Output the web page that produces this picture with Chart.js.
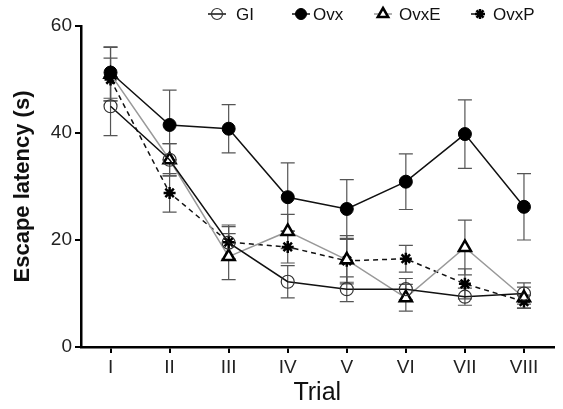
<!DOCTYPE html>
<html lang="en">
<head>
  <meta charset="UTF-8">
  <title>Escape latency by trial</title>
  <script src="https://cdn.jsdelivr.net/npm/chart.js@4"></script>
  <style>
    body { margin: 0; background: #fff; }
    .chartBox { width: 563px; height: 409px; }
  </style>
</head>
<body>
  <div class="chartBox"><canvas id="myChart"></canvas></div>
  <script>
    // data
    const trials = ['I', 'II', 'III', 'IV', 'V', 'VI', 'VII', 'VIII'];
    const yTicks = [0, 20, 40, 60];

    const giMean   = [45.0, 35.0, 19.5, 12.2, 10.8, 10.8, 9.4, 10.0];
    const giSem    = [5.5, 3.0, 3.0, 3.0, 2.3, 2.0, 1.6, 2.0];
    const ovxMean  = [51.3, 41.5, 40.8, 28.0, 25.8, 30.9, 39.8, 26.2];
    const ovxSem   = [4.8, 6.5, 4.5, 6.4, 5.5, 5.2, 6.4, 6.2];
    const ovxEMean = [51.0, 35.0, 16.9, 21.6, 16.3, 9.2, 18.6, 9.2];
    const ovxESem  = [5.0, 3.0, 4.3, 3.2, 4.5, 2.5, 5.1, 2.0];
    const ovxPMean = [50.0, 28.8, 19.6, 18.7, 16.1, 16.5, 11.8, 8.5];
    const ovxPSem  = [4.0, 3.6, 3.2, 3.0, 4.0, 2.5, 2.8, 1.2];

    const font = 'Arial, "Liberation Sans", sans-serif';

    // vertical SEM bars with caps
    const errorBars = {
      id: 'errorBars',
      beforeDatasetsDraw(chart) {
        const ctx = chart.ctx;
        const y = chart.scales.y;
        ctx.save();
        ctx.strokeStyle = '#555';
        ctx.lineWidth = 1.2;
        chart.data.datasets.forEach((ds, i) => {
          const meta = chart.getDatasetMeta(i);
          ds.sem.forEach((e, j) => {
            const px = meta.data[j].x;
            const top = y.getPixelForValue(ds.data[j] + e);
            const bot = y.getPixelForValue(ds.data[j] - e);
            ctx.beginPath();
            ctx.moveTo(px, top); ctx.lineTo(px, bot);
            ctx.moveTo(px - 7, top); ctx.lineTo(px + 7, top);
            ctx.moveTo(px - 7, bot); ctx.lineTo(px + 7, bot);
            ctx.stroke();
          });
        });
        ctx.restore();
      }
    };

    // prism-style legend: short line + marker + name
    const legendMarkX = [217, 301, 383, 480];
    const legendTextX = [236, 313, 399, 493];
    const lineLegend = {
      id: 'lineLegend',
      afterDraw(chart) {
        const ctx = chart.ctx;
        const ly = 14;
        ctx.save();
        chart.data.datasets.forEach((ds, i) => {
          const cx = legendMarkX[i];
          ctx.strokeStyle = ds.borderColor;
          ctx.lineWidth = 1.5;
          ctx.setLineDash(ds.borderDash || []);
          ctx.beginPath();
          ctx.moveTo(cx - 9, ly); ctx.lineTo(cx + 9, ly);
          ctx.stroke();
          ctx.setLineDash([]);
          ctx.fillStyle = ds.pointBackgroundColor;
          ctx.strokeStyle = ds.pointBorderColor;
          ctx.lineWidth = ds.pointBorderWidth;
          Chart.helpers.drawPoint(ctx, {
            pointStyle: ds.pointStyle,
            radius: ds.pointRadius - 1,
            borderWidth: ds.pointBorderWidth,
            rotation: 0
          }, cx, ly);
          ctx.fillStyle = '#111';
          ctx.font = '17px ' + font;
          ctx.textBaseline = 'middle';
          ctx.textAlign = 'left';
          ctx.fillText(ds.label, legendTextX[i], ly + 1);
        });
        ctx.restore();
      }
    };

    const data = {
      labels: trials,
      datasets: [{
        label: 'GI',
        data: giMean,
        sem: giSem,
        borderColor: '#111',
        borderWidth: 1.5,
        pointStyle: 'circle',
        pointRadius: 6.5,
        pointBorderWidth: 1.2,
        pointBorderColor: '#333',
        pointBackgroundColor: 'rgba(255,255,255,0)'
      }, {
        label: 'Ovx',
        data: ovxMean,
        sem: ovxSem,
        borderColor: '#111',
        borderWidth: 1.5,
        pointStyle: 'circle',
        pointRadius: 6.5,
        pointBorderWidth: 1,
        pointBorderColor: '#000',
        pointBackgroundColor: '#000'
      }, {
        label: 'OvxE',
        data: ovxEMean,
        sem: ovxESem,
        borderColor: '#999',
        borderWidth: 1.5,
        pointStyle: 'triangle',
        pointRadius: 7,
        pointBorderWidth: 2.5,
        pointBorderColor: '#000',
        pointBackgroundColor: '#fff'
      }, {
        label: 'OvxP',
        data: ovxPMean,
        sem: ovxPSem,
        borderColor: '#111',
        borderWidth: 1.5,
        borderDash: [5, 4],
        pointStyle: 'star',
        pointRadius: 6,
        pointBorderWidth: 2.5,
        pointBorderColor: '#000',
        pointBackgroundColor: '#000'
      }]
    };

    const config = {
      type: 'line',
      data,
      options: {
        responsive: true,
        maintainAspectRatio: false,
        animation: false,
        layout: { padding: { top: 26, right: 1, left: 0, bottom: 0 } },
        plugins: {
          legend: { display: false },
          tooltip: { enabled: false }
        },
        scales: {
          x: {
            offset: true,
            grid: { display: true, drawOnChartArea: false, drawTicks: true, tickLength: 6, color: '#000', lineWidth: 2, offset: false },
            border: { color: '#000', width: 2.5 },
            ticks: { color: '#222', padding: 3, font: { family: font, size: 19 } },
            title: { display: true, text: 'Trial', color: '#111', padding: { top: 2, bottom: 1 }, font: { family: font, size: 25 } },
            afterFit(scale) { scale.height = 62; }
          },
          y: {
            min: 0,
            max: 60,
            afterBuildTicks(scale) { scale.ticks = yTicks.map(v => ({ value: v })); },
            grid: { drawOnChartArea: false, drawTicks: true, tickLength: 6, color: '#000', lineWidth: 2 },
            border: { color: '#000', width: 2.5 },
            ticks: { color: '#222', padding: 3, font: { family: font, size: 19 } },
            title: { display: true, text: 'Escape latency (s)', color: '#111', padding: { top: 10, bottom: 4 }, font: { family: font, size: 22, weight: 'bold' } },
            afterFit(scale) { scale.width = 81; }
          }
        }
      },
      plugins: [errorBars, lineLegend]
    };

    const myChart = new Chart(document.getElementById('myChart'), config);
  </script>
</body>
</html>
